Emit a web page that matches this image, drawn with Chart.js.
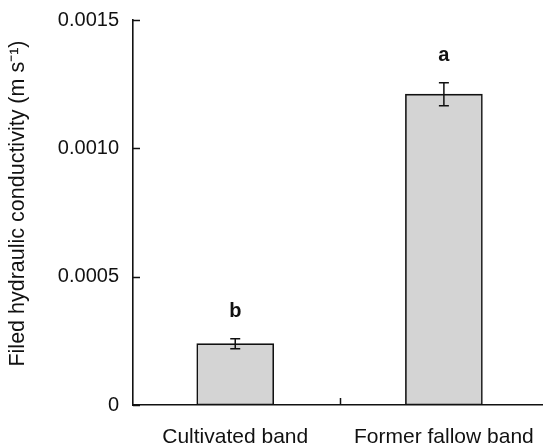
<!DOCTYPE html>
<html>
<head>
<meta charset="utf-8">
<script src="https://cdn.jsdelivr.net/npm/chart.js@4/dist/chart.umd.min.js"></script>
<style>
  html, body { margin: 0; padding: 0; background: #ffffff; }
  #wrap { width: 543px; height: 446px; }
</style>
</head>
<body>
<div id="wrap"><canvas id="c" width="543" height="446"></canvas></div>
<script>
const categories = ["Cultivated band", "Former fallow band"];
const conductivity = [0.000239, 0.001211];
const stdError = [0.0000195, 0.0000448];
const sigLetters = ["b", "a"];
const yTicks = [0, 0.0005, 0.0010, 0.0015];
const yTickLabels = ["0", "0.0005", "0.0010", "0.0015"];
const xTickMarks = [0.5];
const yTitle = "Filed hydraulic conductivity (m s\u207B\u00B9)";

const FONT = "'Liberation Sans', Arial, Helvetica, sans-serif";

const errorBarPlugin = {
  id: 'errorBars',
  afterDatasetsDraw(chart) {
    const xs = chart.scales.x, ys = chart.scales.y;
    const ctx = chart.ctx;
    const area = chart.chartArea;
    ctx.save();
    ctx.strokeStyle = '#111';
    ctx.lineWidth = 1.5;
    // inward tick marks
    ctx.beginPath();
    yTicks.forEach(v => {
      const y = Math.round(ys.getPixelForValue(v)) + 0.5;
      ctx.moveTo(area.left, y); ctx.lineTo(area.left + 7, y);
    });
    xTickMarks.forEach(v => {
      const x = Math.round(xs.getPixelForValue(v)) + 0.5;
      ctx.moveTo(x, area.bottom); ctx.lineTo(x, area.bottom - 7);
    });
    ctx.stroke();
    conductivity.forEach((v, i) => {
      const x = xs.getPixelForValue(i);
      const yT = ys.getPixelForValue(v + stdError[i]);
      const yB = ys.getPixelForValue(v - stdError[i]);
      const cap = 5;
      ctx.beginPath();
      ctx.moveTo(x, yT); ctx.lineTo(x, yB);
      ctx.moveTo(x - cap, yT); ctx.lineTo(x + cap, yT);
      ctx.moveTo(x - cap, yB); ctx.lineTo(x + cap, yB);
      ctx.stroke();
      ctx.fillStyle = '#111';
      ctx.font = 'bold 20px ' + FONT;
      ctx.textAlign = 'center';
      ctx.textBaseline = 'middle';
      ctx.fillText(sigLetters[i], x, yT - 27);
    });
    ctx.restore();
  }
};

new Chart(document.getElementById('c'), {
  type: 'bar',
  data: {
    datasets: [{
      data: conductivity.map((v, i) => ({ x: i, y: v })),
      backgroundColor: '#d4d4d4',
      borderColor: '#111',
      borderWidth: 1.6,
      borderSkipped: false,
      barThickness: 77
    }]
  },
  options: {
    responsive: false,
    devicePixelRatio: 1,
    animation: false,
    layout: { padding: { top: 20, right: 0, left: 0, bottom: 0 } },
    plugins: { legend: { display: false }, tooltip: { enabled: false } },
    scales: {
      x: {
        type: 'linear',
        offset: false,
        min: -0.49,
        max: 1.475,
        afterBuildTicks(scale) {
          scale.ticks = [{ value: 0 }, { value: 1 }];
        },
        afterFit(scale) {
          scale.height = 41;
          scale.paddingLeft = 0; scale.paddingRight = 0;
        },
        ticks: {
          autoSkip: false,
          maxRotation: 0,
          minRotation: 0,
          padding: 20,
          color: '#111',
          font: { family: FONT, size: 21 },
          callback: (v) => categories[v]
        },
        grid: { display: false, drawTicks: false },
        border: { display: true, color: '#111', width: 1.6 }
      },
      y: {
        min: 0,
        max: 0.0015,
        afterBuildTicks(scale) {
          scale.ticks = yTicks.map(v => ({ value: v }));
        },
        afterFit(scale) {
          scale.width = 133;
          scale.paddingTop = 0; scale.paddingBottom = 0;
        },
        ticks: {
          padding: 14,
          color: '#111',
          font: { family: FONT, size: 20 },
          callback: (v) => yTickLabels[yTicks.indexOf(v)]
        },
        grid: { display: false, drawTicks: false },
        border: { display: true, color: '#111', width: 1.6 },
        title: {
          display: true,
          text: "   " + yTitle,
          color: '#111',
          font: { family: FONT, size: 21.5 },
          padding: { top: 5, bottom: 0 }
        }
      }
    }
  },
  plugins: [errorBarPlugin]
});
</script>
</body>
</html>
